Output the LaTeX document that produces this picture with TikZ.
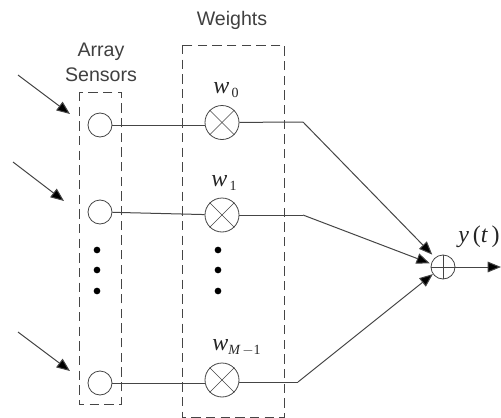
\documentclass[tikz,border=0pt]{standalone}
\usepackage{fontspec}
\setmainfont{Liberation Sans}
\newfontfamily\symbolfont{Liberation Serif}
\usepackage{tikz}
\usetikzlibrary{arrows.meta}
\definecolor{linegray}{rgb}{0.27,0.27,0.27}
\newcommand{\subsym}[1]{\raisebox{-3.5pt}{\fontsize{10.5}{12}\selectfont #1}}
\tikzset{
  sensor/.style={draw=linegray,circle,minimum size=18pt,inner sep=0pt,line width=0.6pt},
  weight/.style={draw=linegray,circle,minimum size=25.5pt,inner sep=0pt,line width=0.6pt},
  adder/.style={draw=linegray,circle,minimum size=18pt,inner sep=0pt,line width=0.6pt},
  wire/.style={draw=linegray,line width=0.75pt},
  arrowline/.style={wire,-{Triangle[length=10pt,width=8pt,fill=black]}},
  dashbox/.style={draw=linegray,line width=0.75pt,dash pattern=on 7pt off 4pt},
  dotmark/.style={fill=black,circle,minimum size=5pt,inner sep=0pt},
  heading/.style={inner sep=0.75pt,font=\fontsize{14.7}{17}\selectfont,text=black!75},
  symbol/.style={inner sep=0pt,anchor=base west,font=\fontsize{18}{18}\symbolfont\itshape,text=black!85}
}
\begin{document}
\begin{tikzpicture}[x=0.75pt,y=0.75pt,yscale=-1,xscale=1]
\useasboundingbox (0,0) rectangle (501,418);

%Shape: dashed boxes
\draw [dashbox] (79,92) rectangle (121,404);
\draw [dashbox] (182,45) rectangle (284.5,417);

%Shape: sensors
\node [sensor] (s0) at (100,125) {};
\node [sensor] (s1) at (100,212) {};
\node [sensor] (s2) at (100,383) {};

%Shape: weights
\node [weight] (w0) at (222,122.5) {};
\node [weight] (w1) at (222,215) {};
\node [weight] (w2) at (222,380) {};
\foreach \n in {w0,w1,w2}{
  \draw [linegray,line width=0.5pt] (\n.45) -- (\n.225);
  \draw [linegray,line width=0.5pt] (\n.135) -- (\n.315);
}

%Shape: adder
\node [adder] (sum) at (443,267) {};
\draw [linegray,line width=0.5pt] (sum.north) -- (sum.south);
\draw [linegray,line width=0.5pt] (sum.west) -- (sum.east);

%Shape: dots
\foreach \y [count=\i] in {250,270,291}{
  \node [dotmark] (da\i) at (97,\y) {};
  \node [dotmark] (db\i) at (218,\y) {};
}

% Wires
\draw [wire] (s0.east) -- (s0.east -| w0.west);
\draw [wire] (s1) -- (w1);
\draw [wire] (s2.east) -- (s2.east -| w2.west);

% Bends and free ends
\coordinate (b0) at (303,122);
\coordinate (b1) at (303,215);
\coordinate (b2) at (298,382);
\coordinate (a0) at (18,75);
\coordinate (a1) at (13,162);
\coordinate (a2) at (18,332);
\coordinate (t0) at (70,114);
\coordinate (t1) at (64,201);
\coordinate (t2) at (70,371);
\coordinate (out) at (501,267);

% Arrows
\draw [wire] (w0) -- (b0);
\draw [wire] (w1) -- (b1);
\draw [wire] (w2.east |- b2) -- (b2);
\draw [arrowline,shorten >=3pt] (b0) -- (sum.130);
\draw [arrowline,shorten >=1pt] (b1) -- (sum.165);
\draw [arrowline] (b2) -- (sum.215);
\draw [arrowline] (sum) -- (out);
\draw [arrowline] (a0) -- (t0);
\draw [arrowline] (a1) -- (t1);
\draw [arrowline] (a2) -- (t2);

% Text Node
\node [heading] (lw) at (232,20) {Weights};
% Text Node
\node [heading] (la) at (101,52) {Array};
% Text Node
\node [heading] (ls) at (101,75) {Sensors};
% Text Node
\node [symbol] (l0) at (213,93) {w\subsym{\upshape\,0}};
% Text Node
\node [symbol] (l1) at (211,186) {w\subsym{\upshape\,1}};
% Text Node
\node [symbol] (l2) at (212,350) {w\subsym{M\,\upshape $-$1}};
% Text Node
\node [symbol] (ly) at (458,242) {y\,{\upshape (}t\,{\upshape )}};
\end{tikzpicture}
\end{document}
